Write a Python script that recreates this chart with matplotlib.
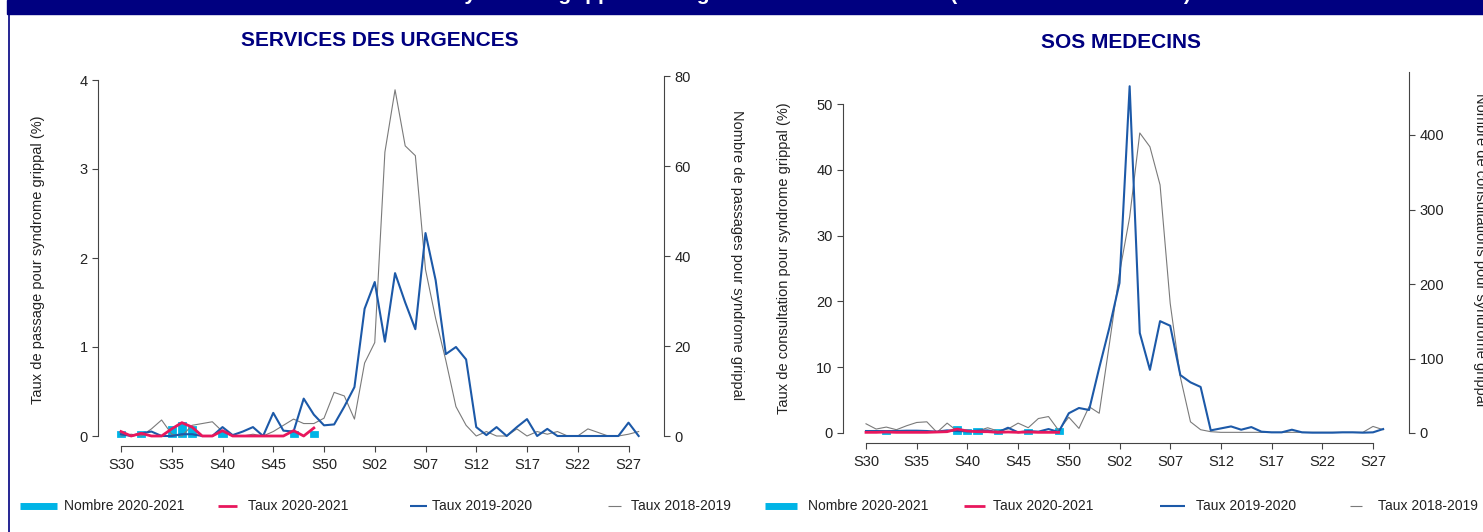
import numpy as np
import matplotlib
matplotlib.use("Agg")
import matplotlib.pyplot as plt
from matplotlib.patches import Rectangle
from matplotlib.lines import Line2D

plt.rcParams['font.family'] = ['Liberation Sans', 'DejaVu Sans']

# weeks S30 (2020) .. S53, then S01 .. S28 (2021)
weeks = ["S%d" % w for w in range(30, 54)] + ["S%02d" % w for w in range(1, 29)]
tick_idx = list(range(0, 51, 5))

# ---- Services des urgences ----
urg_taux_1819 = [0.0, 0.02, 0.0, 0.08, 0.18, 0.02, 0.0, 0.12, 0.14, 0.16, 0.05, 0.0,
                 0.0, 0.02, 0.0, 0.05, 0.12, 0.19, 0.14, 0.14, 0.2, 0.49, 0.45, 0.19,
                 0.82, 1.05, 3.19, 3.89, 3.26, 3.15, 1.87, 1.32, 0.85, 0.33, 0.12, 0.0,
                 0.05, 0.0, 0.0, 0.08, 0.0, 0.05, 0.02, 0.05, 0.0, 0.0, 0.08, 0.04,
                 0.0, 0.0, 0.02, 0.05]
urg_taux_1920 = [0.02, 0.0, 0.03, 0.05, 0.0, 0.0, 0.02, 0.02, 0.0, 0.0, 0.1, 0.01,
                 0.05, 0.1, 0.0, 0.26, 0.06, 0.05, 0.42, 0.24, 0.12, 0.13, 0.33, 0.55,
                 1.43, 1.73, 1.06, 1.83, 1.5, 1.2, 2.28, 1.75, 0.92, 1.0, 0.86, 0.1,
                 0.01, 0.1, 0.0, 0.1, 0.19, 0.0, 0.08, 0.0, 0.0, 0.0, 0.0, 0.0,
                 0.0, 0.0, 0.15, 0.0]
urg_taux_2021 = [0.05, 0.0, 0.03, 0.0, 0.0, 0.08, 0.15, 0.1, 0.0, 0.0, 0.06, 0.0,
                 0.0, 0.0, 0.0, 0.0, 0.0, 0.06, 0.0, 0.09]
urg_nombre_2021 = [1, 0, 1, 0, 0, 2, 3, 2, 0, 0, 1, 0, 0, 0, 0, 0, 0, 1, 0, 1]

# ---- SOS Medecins ----
sos_taux_1819 = [1.4, 0.6, 0.9, 0.5, 1.1, 1.6, 1.7, 0.1, 1.5, 0.3, 0.4, 0.3,
                 0.8, 0.3, 0.6, 1.5, 0.8, 2.2, 2.5, 0.4, 2.4, 0.7, 4.0, 3.0,
                 13.5, 24.3, 32.8, 45.6, 43.5, 37.7, 19.7, 8.5, 1.7, 0.5, 0.2, 0.1,
                 0.1, 0.1, 0.1, 0.1, 0.1, 0.1, 0.1, 0.1, 0.1, 0.1, 0.1, 0.1,
                 0.1, 0.1, 1.0, 0.5]
sos_taux_1920 = [0.3, 0.3, 0.3, 0.3, 0.35, 0.35, 0.3, 0.2, 0.4, 0.3, 0.25, 0.35,
                 0.4, 0.1, 0.8, 0.1, 0.3, 0.2, 0.6, 0.15, 3.0, 3.8, 3.5, 9.9,
                 16.0, 22.8, 52.7, 15.2, 9.6, 17.0, 16.3, 8.8, 7.7, 7.0, 0.4, 0.7,
                 1.0, 0.5, 0.9, 0.2, 0.1, 0.1, 0.5, 0.1, 0.05, 0.05, 0.05, 0.1,
                 0.1, 0.05, 0.1, 0.6]
sos_taux_2021 = [0.1, 0.1, 0.15, 0.1, 0.1, 0.1, 0.1, 0.15, 0.2, 0.6, 0.3, 0.2,
                 0.2, 0.1, 0.15, 0.1, 0.15, 0.1, 0.1, 0.1]
sos_nombre_2021 = [0, 0, 3, 0, 0, 0, 0, 0, 0, 8, 4, 6, 0, 4, 0, 0, 4, 0, 0, 5]

NAVY = '#000080'
CYAN = '#00b4e6'
RED = '#e8175d'
BLUE = '#1c59a8'
GRAY = '#7a7a7a'
TXT = '#222222'

W, H = 1483, 532
fig = plt.figure(figsize=(W / 100, H / 100), dpi=100)
x = np.arange(len(weeks))


def panel(box, x0, pxw, y0, lsc, rsc, lmax, lstep, rmax, rstep, rbound,
          t18, t19, t20, nb):
    l, t, r, b = box
    ax = fig.add_axes([l / W, 1 - b / H, (r - l) / W, (b - t) / H])
    ax2 = ax.twinx()
    ax.set_xlim((l - x0) / pxw, (r - x0) / pxw)
    ax.set_ylim((y0 - b) / lsc, (y0 - t) / lsc)
    ax2.set_ylim((y0 - b) / rsc, (y0 - t) / rsc)

    idx = [i for i, n in enumerate(nb) if n > 0]
    ax2.bar(idx, [nb[i] for i in idx], width=0.6, color=CYAN,
            edgecolor=CYAN, linewidth=2.0)
    ax.plot(x, t18, color=GRAY, lw=0.8)
    ax.plot(x, t19, color=BLUE, lw=1.5)
    ax.plot(x[:len(t20)], t20, color=RED, lw=2)

    ax.set_zorder(ax2.get_zorder() + 1)
    ax.patch.set_visible(False)

    for s in ['top', 'right']:
        ax.spines[s].set_visible(False)
    for s in ['top', 'left', 'bottom']:
        ax2.spines[s].set_visible(False)
    ax.spines['left'].set_bounds(0, lmax)
    ax.spines['bottom'].set_bounds(0, 50)
    ax2.spines['right'].set_bounds(0, rbound)
    for sp in [ax.spines['left'], ax.spines['bottom'], ax2.spines['right']]:
        sp.set_color('#444444')
        sp.set_linewidth(0.8)

    ax.set_xticks(tick_idx, [weeks[i] for i in tick_idx])
    lt = np.arange(0, lmax + 0.001, lstep)
    ax.set_yticks(lt, ["%d" % v for v in lt])
    rt = np.arange(0, rmax + 0.001, rstep)
    ax2.set_yticks(rt, ["%d" % v for v in rt])
    for a in [ax, ax2]:
        a.tick_params(direction='out', length=4.5, width=0.8, color='#444444',
                      labelcolor=TXT, labelsize=10.5, pad=3)
    ax.tick_params(axis='x', pad=4)
    return ax, ax2


panel((98, 70, 664, 446), 121, 10.15, 436, 89.0, 4.5, 4, 1, 80, 20, 80,
      urg_taux_1819, urg_taux_1920, urg_taux_2021, urg_nombre_2021)
panel((843, 72, 1409, 443), 866, 10.14, 433, 6.58, 0.745, 50, 10, 400, 100,
      (433 - 72) / 0.745, sos_taux_1819, sos_taux_1920, sos_taux_2021, sos_nombre_2021)

# titles and axis labels
fig.text(380 / W, 1 - 40 / H, 'SERVICES DES URGENCES', color=NAVY, fontsize=15,
         fontweight='bold', ha='center', va='center')
fig.text(1121 / W, 1 - 42 / H, 'SOS MEDECINS', color=NAVY, fontsize=15,
         fontweight='bold', ha='center', va='center')

fig.text(38 / W, 1 - 260 / H, 'Taux de passage pour syndrome grippal (%)',
         rotation=90, ha='center', va='center', fontsize=10.5, color=TXT)
fig.text(737 / W, 1 - 255 / H, 'Nombre de passages pour syndrome grippal',
         rotation=-90, ha='center', va='center', fontsize=10.5, color=TXT)
fig.text(784 / W, 1 - 258 / H, 'Taux de consultation pour syndrome grippal (%)',
         rotation=90, ha='center', va='center', fontsize=10.5, color=TXT)
fig.text(1480 / W, 1 - 250 / H, 'Nombre de consultations pour syndrome grippal',
         rotation=-90, ha='center', va='center', fontsize=10.5, color=TXT)

# top banner; its title is cut by the top edge, only descenders show
fig.add_artist(Rectangle((7 / W, 1 - 14 / H), 1 - 7 / W, 14 / H,
                         transform=fig.transFigure, color=NAVY, zorder=0))
fig.add_artist(Line2D([8.5 / W, 8.5 / W], [0, 1 - 14 / H], color=NAVY, lw=1.2))
fig.text(745 / W, 1 - 0.5 / H,
         'Activité liée au syndrome grippal aux urgences et SOS Médecins (données au 13/12/2020)',
         color='white', fontsize=15, fontweight='bold', ha='center', va='baseline')

# legends
legend_y = 1 - 506 / H
items = [(20, 57, 64, CYAN, 5, 'Nombre 2020-2021'),
         (218, 237, 248, RED, 2, 'Taux 2020-2021'),
         (410, 427, 432, BLUE, 1.5, 'Taux 2019-2020'),
         (608, 621, 631, GRAY, 0.8, 'Taux 2018-2019'),
         (765, 797, 808, CYAN, 5, 'Nombre 2020-2021'),
         (964, 985, 993, RED, 2, 'Taux 2020-2021'),
         (1160, 1185, 1196, BLUE, 1.5, 'Taux 2019-2020'),
         (1350, 1362, 1378, GRAY, 0.8, 'Taux 2018-2019')]
for x0, x1, tx, c, lw, lab in items:
    fig.add_artist(Line2D([x0 / W, x1 / W], [legend_y, legend_y], color=c, lw=lw,
                          solid_capstyle='butt'))
    fig.text(tx / W, legend_y, lab, ha='left', va='center', fontsize=10, color=TXT)

fig.savefig('out.png', dpi=100)
